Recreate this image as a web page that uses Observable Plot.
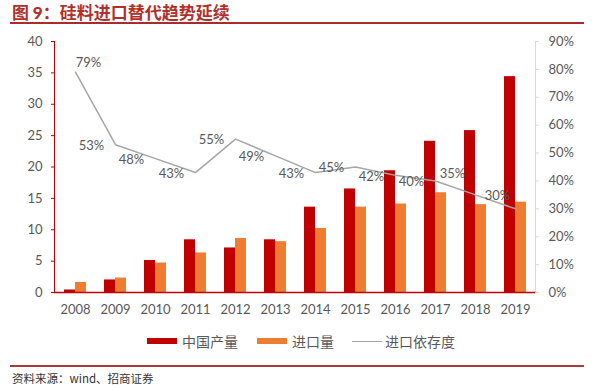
<!DOCTYPE html>
<html>
<head>
<meta charset="utf-8">
<script src="https://cdn.jsdelivr.net/npm/d3@7"></script>
<script src="https://cdn.jsdelivr.net/npm/@observablehq/plot@0.6"></script>
<style>
  html, body { margin: 0; padding: 0; background: #fff; }
  body { width: 592px; height: 389px; position: relative; overflow: hidden; font-family: "Noto Sans CJK SC", Lato, sans-serif; }
  #title { position: absolute; left: 12px; top: 0px; font-size: 17px; font-weight: bold; color: #b2302b; font-family: "Noto Sans CJK SC", sans-serif; line-height: 24px; }
  #title .num { font-family: Lato, "Noto Sans", sans-serif; font-weight: 900; }
  #tline { position: absolute; left: 10px; right: 8px; top: 22px; height: 2px; background: #a82c2c; }
  #chart { position: absolute; left: 0; top: 26px; }
  #legend { position: absolute; top: 332px; left: 0; width: 592px; height: 18px; font-size: 14px; color: #595959; }
  #legend .item { position: absolute; top: 0; display: flex; align-items: center; height: 18px; white-space: nowrap; }
  #legend .sw { display: inline-block; width: 30px; height: 6px; margin-right: 5px; }
  #legend .ln { display: inline-block; width: 30px; height: 0; border-top: 1.5px solid #a6a6a6; margin-right: 3px; }
  #fline { position: absolute; left: 10px; right: 8px; top: 365px; height: 2px; background: #a83a3a; }
  #source { position: absolute; left: 12px; top: 370px; font-size: 11.5px; color: #333; line-height: 17px; }
</style>
</head>
<body>
<div id="title">图 <span class="num">9</span>：硅料进口替代趋势延续</div>
<div id="tline"></div>
<div id="chart"></div>
<div id="legend"></div>
<div id="fline"></div>
<div id="source">资料来源：wind、招商证券</div>
<script>
const years = ["2008","2009","2010","2011","2012","2013","2014","2015","2016","2017","2018","2019"];
const production = [0.4, 2.0, 5.1, 8.4, 7.1, 8.4, 13.6, 16.5, 19.4, 24.1, 25.8, 34.4];
const imports = [1.6, 2.3, 4.7, 6.3, 8.6, 8.1, 10.2, 13.6, 14.1, 15.9, 14.0, 14.4];
const ratio = [79, 53, 48, 43, 55, 49, 43, 45, 42, 40, 35, 30];
const leftTicks = [0, 5, 10, 15, 20, 25, 30, 35, 40];
const rightTicks = [0, 10, 20, 30, 40, 50, 60, 70, 80, 90];
const legendLabels = ["中国产量", "进口量", "进口依存度"];

const RED = "#c00000", ORANGE = "#ed7d31", GRAY = "#a6a6a6", TXT = "#595959";
const K = 40 / 90; // right-axis (%) to left-axis units

const data = years.map((y, i) => ({year: y, prod: production[i], imp: imports[i], ratio: ratio[i], i}));

const plot = Plot.plot({
  width: 592,
  height: 298,
  marginTop: 15,
  marginBottom: 32,
  marginLeft: 54,
  marginRight: 57,
  style: {fontFamily: "Lato, 'Noto Sans', sans-serif", fontSize: "13px", color: TXT, background: "transparent"},
  x: {domain: years, padding: 0, label: null},
  y: {domain: [0, 40], label: null},
  marks: [
    Plot.barY(data, {x: "year", y: "prod", fill: RED, insetLeft: 9, insetRight: 20}),
    Plot.barY(data, {x: "year", y: "imp", fill: ORANGE, insetLeft: 20, insetRight: 9}),
    Plot.line(data, {x: "year", y: d => d.ratio * K, stroke: GRAY, strokeWidth: 1.5}),
    Plot.text(data.filter(d => d.i >= 1 && d.i <= 9), {x: "year", y: d => d.ratio * K, text: d => d.ratio + "%", dx: -24, dy: 1, fill: TXT, fontSize: 13}),
    Plot.text(data.filter(d => d.i === 0), {x: "year", y: d => d.ratio * K, text: d => d.ratio + "%", dx: 13, dy: -9, fill: TXT, fontSize: 13}),
    Plot.text(data.filter(d => d.i === 10), {x: "year", y: d => d.ratio * K, text: d => d.ratio + "%", dx: -23, dy: -21, fill: TXT, fontSize: 13}),
    Plot.text(data.filter(d => d.i === 11), {x: "year", y: d => d.ratio * K, text: d => d.ratio + "%", dx: -18, dy: -13, fill: TXT, fontSize: 13}),
    Plot.frame({anchor: "right", stroke: "#d9d9d9"}),
    Plot.axisY(rightTicks.map(v => v * K), {anchor: "right", tickSize: 3, tickPadding: 10, stroke: "#d9d9d9", fill: TXT, fontSize: 13, tickFormat: v => Math.round(v / K) + "%", label: null}),
    Plot.frame({anchor: "left", stroke: RED}),
    Plot.axisY(leftTicks, {anchor: "left", tickSize: 3, tickPadding: 9, stroke: RED, fill: TXT, fontSize: 13, label: null}),
    Plot.axisX({tickSize: 0, tickPadding: 12, fill: TXT, fontSize: 13, label: null}),
    Plot.ruleY([0], {stroke: RED, strokeWidth: 1.5})
  ]
});
document.getElementById("chart").appendChild(plot);

// legend
const legend = document.getElementById("legend");
const items = [
  {label: legendLabels[0], kind: "sw", color: RED, left: 147},
  {label: legendLabels[1], kind: "sw", color: ORANGE, left: 257},
  {label: legendLabels[2], kind: "ln", color: GRAY, left: 352}
];
for (const it of items) {
  const div = document.createElement("div");
  div.className = "item";
  div.style.left = it.left + "px";
  const s = document.createElement("span");
  s.className = it.kind;
  if (it.kind === "sw") s.style.background = it.color;
  div.appendChild(s);
  const t = document.createElement("span");
  t.textContent = it.label;
  div.appendChild(t);
  legend.appendChild(div);
}
</script>
</body>
</html>
